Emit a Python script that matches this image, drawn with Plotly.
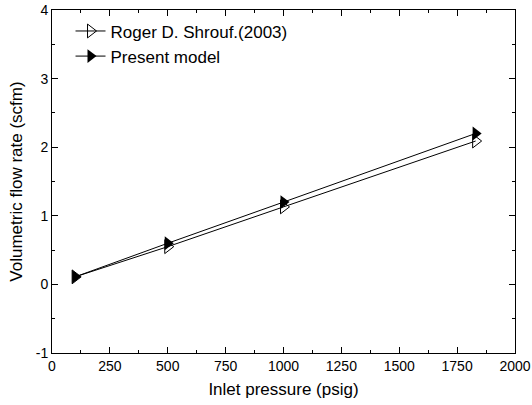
import plotly.graph_objects as go

# data
pressure = [100, 500, 1000, 1830]
shrouf_flow = [0.11, 0.55, 1.13, 2.09]
model_flow = [0.11, 0.60, 1.20, 2.20]

x_ticks = [0, 250, 500, 750, 1000, 1250, 1500, 1750, 2000]
y_ticks = [-1, 0, 1, 2, 3, 4]
y_labels = ["-1", "0", "1", "2", "3", "4"]

fig = go.Figure()
fig.add_trace(go.Scatter(
    x=pressure, y=shrouf_flow, mode="lines+markers",
    name="Roger D. Shrouf.(2003)",
    line=dict(color="black", width=1),
    marker=dict(symbol="triangle-right-open", size=12, color="black",
                line=dict(width=1, color="black")),
))
fig.add_trace(go.Scatter(
    x=pressure, y=model_flow, mode="lines+markers",
    name="Present model",
    line=dict(color="black", width=1),
    marker=dict(symbol="triangle-right", size=12, color="black"),
))

axis_style = dict(
    showline=True, linecolor="black", linewidth=1, mirror="allticks",
    ticks="inside", ticklen=6, tickcolor="black", showgrid=False,
    zeroline=False, tickfont=dict(size=14, color="black"), automargin=False,
    ticklabeloverflow="allow",
)

fig.update_xaxes(
    range=[0, 2000], tickvals=x_ticks,
    title=dict(text="Inlet pressure (psig)", font=dict(size=17, color="black"), standoff=10),
    minor=dict(dtick=125, ticks="inside", ticklen=3, tickcolor="black"),
    **axis_style,
)
fig.update_yaxes(
    range=[-1, 4], tickvals=y_ticks, ticktext=y_labels,
    title=dict(text="Volumetric flow rate (scfm)", font=dict(size=17, color="black"), standoff=8),
    minor=dict(dtick=0.5, ticks="inside", ticklen=3, tickcolor="black"),
    **axis_style,
)

fig.update_layout(
    width=532, height=405,
    margin=dict(l=52, r=17, t=10, b=52),
    plot_bgcolor="white", paper_bgcolor="white",
    font=dict(family="Liberation Sans, Arial, sans-serif", color="black"),
    legend=dict(x=0.04, y=0.99, xanchor="left", yanchor="top",
                bgcolor="rgba(0,0,0,0)", font=dict(size=17),
                tracegroupgap=0, itemwidth=30),
    showlegend=True,
)

# drop the default 8px body margin so the figure fills the window
fig.write_html("out.html", config={"displayModeBar": False},
               post_script="document.body.style.margin='0';")
